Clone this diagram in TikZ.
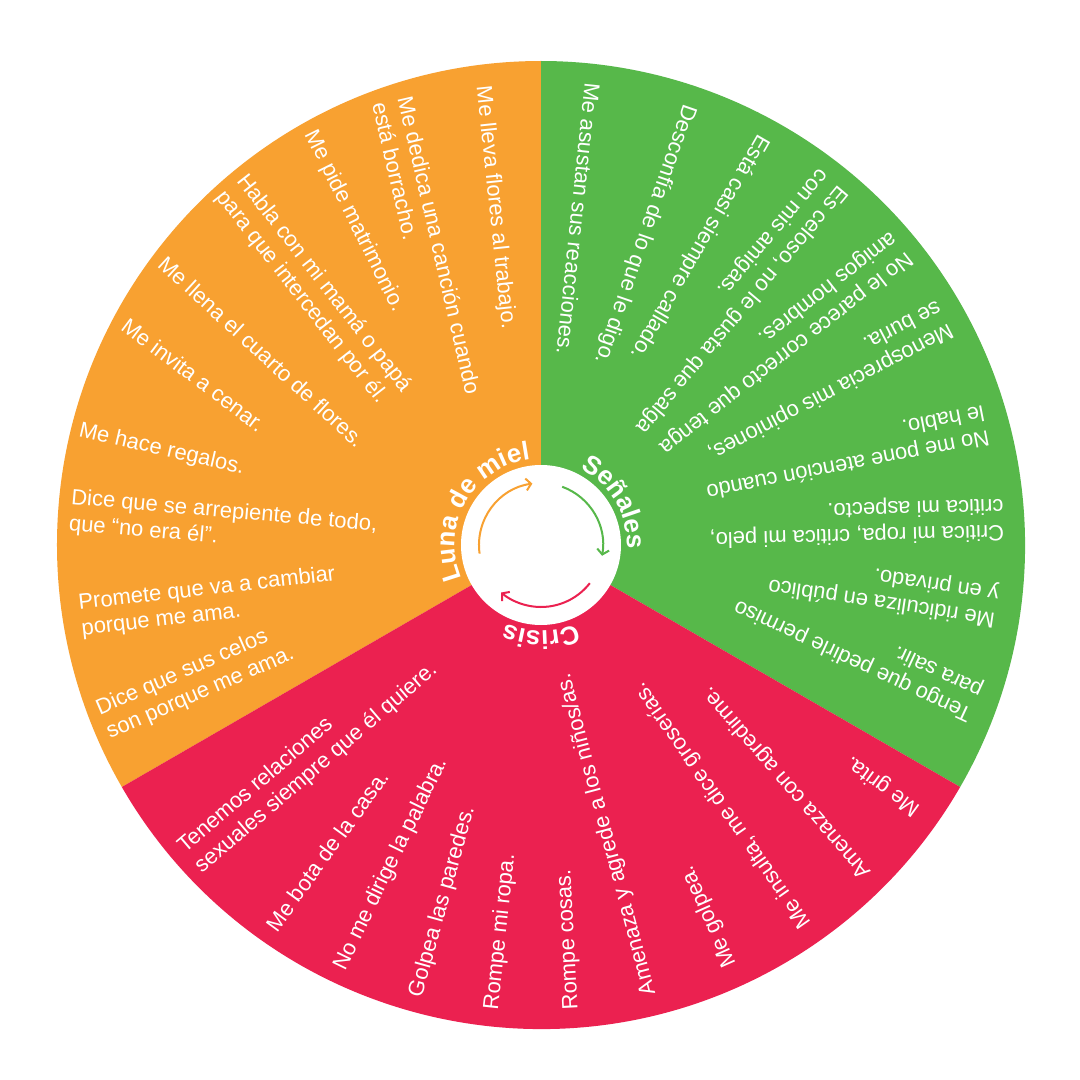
\documentclass[tikz,border=0pt]{standalone}
\usepackage{fontspec}
\setmainfont{Liberation Sans}
\usetikzlibrary{arrows.meta, decorations.text}
\definecolor{corange}{HTML}{F8A131}
\definecolor{cgreen}{HTML}{57B84A}
\definecolor{cred}{HTML}{EB2150}
\newcommand\stagefont{\bfseries\fontsize{26}{30}\selectfont}
\tikzset{
  say/.style={
    text=white, font=\fontsize{22}{26}\selectfont,
    anchor=west, align=left, inner ysep=0pt, inner xsep=-7pt
  },
  cyc/.style={-{Straight Barb[length=5pt,width=12pt]}, line width=2pt, draw=#1},
  stage/.style={
    decorate, decoration={text along path, text align=center,
      text color=white, text={|\stagefont|#1}}
  },
  sector/.style={fill=#1, draw=none}
}

\begin{document}
\begin{tikzpicture}[x=1pt, y=1pt]
  \fill[white] (-541,-535) rectangle (539,545);
  \useasboundingbox (-541,-535) rectangle (539,545);
  \coordinate (c) at (0,0);

  \fill[sector=cgreen] (c) -- (-30:484) arc[start angle=-30, end angle=90, radius=484pt] -- cycle;
  \fill[sector=corange] (c) -- (90:484) arc[start angle=90, end angle=210, radius=484pt] -- cycle;
  \fill[sector=cred] (c) -- (210:484) arc[start angle=210, end angle=330, radius=484pt] -- cycle;
  \fill[white] (c) circle[radius=80pt];

  \draw[cyc=corange] (188:62) arc[start angle=188, end angle=98, radius=62pt];
  \draw[cyc=cgreen] (70:62) arc[start angle=70, end angle=-10, radius=62pt];
  \draw[cyc=cred] (-38:62) arc[start angle=-38, end angle=-130, radius=62pt];

  \path[stage={Señales}] (95:86) arc[start angle=95, end angle=-35, radius=86pt];
  \path[stage={Luna de miel}] (215:86) arc[start angle=215, end angle=85, radius=86pt];
  \path[stage={Crisis}] (335:86) arc[start angle=335, end angle=205, radius=86pt];

  % señales
  \node[say, rotate=264] (g1) at (51,455) {Me asustan sus reacciones.};
  \node[say, rotate=251] (g2) at (146,433) {Desconfía de lo que le digo.};
  \node[say, rotate=240] (g3) at (219,403) {Está casi siempre callado.};
  \node[say, rotate=230] (g4) at (288,360) {Es celoso, no le gusta que salga\\con mis amigas.};
  \node[say, rotate=218] (g5) at (355,295) {No le parece correcto que tenga\\amigos hombres.};
  \node[say, rotate=207.5] (g6) at (399,223) {Menosprecia mis opiniones,\\se burla.};
  \node[say, rotate=191] (g7) at (439,118) {No me pone atención cuando\\le hablo.};
  \node[say, rotate=181.5] (g8) at (456,27) {Critica mi ropa, critica mi pelo,\\critica mi aspecto.};
  \node[say, rotate=171.5] (g9) at (449,-60) {Me ridiculiza en público\\y en privado.};
  \node[say, rotate=155] (g10) at (429,-155) {Tengo que pedirle permiso\\para salir.};

  % crisis
  \node[say, rotate=144] (r1) at (371,-262) {Me grita.};
  \node[say, rotate=131] (r2) at (322,-325) {Amenaza con agredirme.};
  \node[say, rotate=125] (r3) at (262,-375) {Me insulta, me dice groserías.};
  \node[say, rotate=114] (r4) at (187,-415) {Me golpea.};
  \node[say, rotate=105] (r5) at (107,-443) {Amenaza y agrede a los niños/as.};
  \node[say, rotate=93] (r6) at (31,-458) {Rompe cosas.};
  \node[say, rotate=84] (r7) at (-48,-458) {Rompe mi ropa.};
  \node[say, rotate=74.5] (r8) at (-123,-445) {Golpea las paredes.};
  \node[say, rotate=64] (r9) at (-198,-418) {No me dirige la palabra.};
  \node[say, rotate=54] (r10) at (-266,-378) {Me bota de la casa.};
  \node[say, rotate=40.5] (r11) at (-346,-310) {Tenemos relaciones\\sexuales siempre que él quiere.};

  % luna de miel
  \node[say, rotate=276] (o1) at (-58,452) {Me lleva flores al trabajo.};
  \node[say, rotate=283] (o2) at (-147,439) {Me dedica una canción cuando\\está borracho.};
  \node[say, rotate=296.5] (o3) at (-228,407) {Me pide matrimonio.};
  \node[say, rotate=308] (o4) at (-306,354) {Habla con mi mamá o papá\\para que intercedan por él.};
  \node[say, rotate=317.5] (o5) at (-374,280) {Me llena el cuarto de flores.};
  \node[say, rotate=323] (o6) at (-411,218) {Me invita a cenar.};
  \node[say, rotate=347] (o7) at (-455,113) {Me hace regalos.};
  \node[say, rotate=355] (o8) at (-464,33) {Dice que se arrepiente de todo,\\que “no era él”.};
  \node[say, rotate=6.5] (o9) at (-454,-71) {Promete que va a cambiar\\porque me ama.};
  \node[say, rotate=23.5] (o10) at (-432,-174) {Dice que sus celos\\son porque me ama.};
\end{tikzpicture}
\end{document}
